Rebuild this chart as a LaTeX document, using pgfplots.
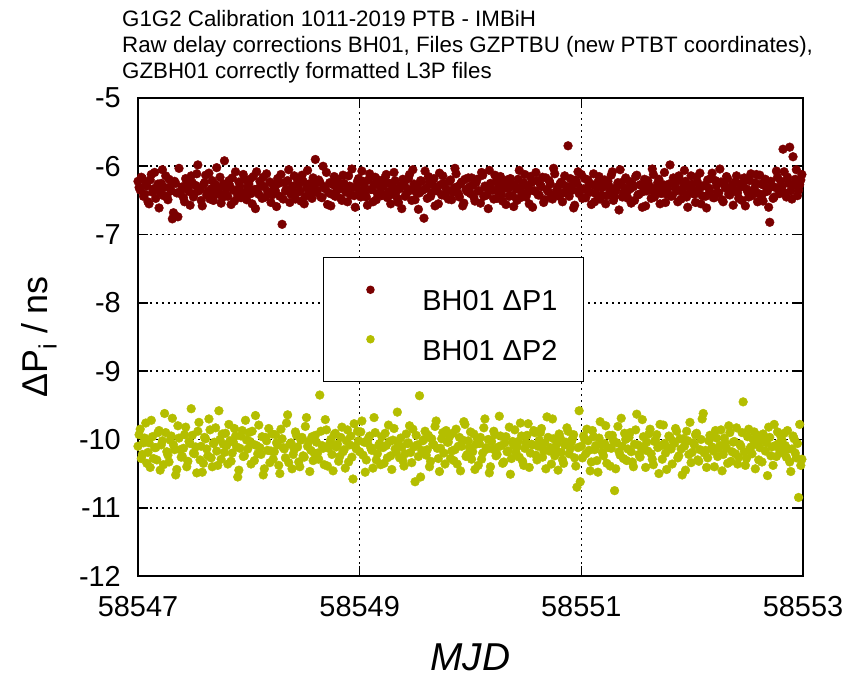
\documentclass[border=0pt]{standalone}
\usepackage{pgfplots}
\pgfplotsset{compat=1.18}
\usepackage{pgfplotstable}
\usepackage{fontspec}
\setmainfont{Liberation Sans}
\definecolor{pone}{RGB}{122,0,0}
\definecolor{ptwo}{RGB}{180,190,0}
% t = MJD - 58547 (even hundredths)
\pgfplotstableread{
t p1 p2
0.00 -6.22 -10.10
0.02 -6.35 -9.85
0.04 -6.18 -10.22
0.06 -6.41 -9.98
0.08 -6.29 -10.35
0.10 -6.55 -10.05
0.12 -6.12 -9.72
0.14 -6.33 -10.28
0.16 -6.47 -10.12
0.18 -6.26 -9.90
0.20 -6.38 -10.45
0.22 -6.05 -10.02
0.24 -6.31 -9.62
0.26 -6.44 -10.18
0.28 -6.19 -10.33
0.30 -6.36 -9.95
0.32 -6.68 -10.08
0.34 -6.25 -10.52
0.36 -6.74 -9.80
0.38 -6.40 -10.15
0.40 -6.30 -10.25
0.42 -6.52 -9.93
0.44 -6.21 -10.40
0.46 -6.37 -10.03
0.48 -6.14 -9.55
0.50 -6.45 -10.20
0.52 -6.28 -10.11
0.54 -5.98 -9.88
0.56 -6.34 -10.30
0.58 -6.58 -10.48
0.60 -6.24 -9.97
0.62 -6.42 -10.14
0.64 -6.10 -9.70
0.66 -6.33 -10.27
0.68 -6.50 -10.06
0.70 -6.27 -9.83
0.72 -6.39 -10.38
0.74 -6.16 -10.00
0.76 -6.46 -9.92
0.78 -5.92 -10.19
0.80 -6.31 -10.09
0.82 -6.21 -9.78
0.84 -6.56 -10.32
0.86 -6.35 -10.04
0.88 -6.08 -9.95
0.90 -6.43 -10.55
0.92 -6.29 -10.13
0.94 -6.38 -9.87
0.96 -6.19 -10.24
0.98 -6.49 -10.01
1.00 -6.26 -9.90
1.02 -6.40 -10.36
1.04 -6.15 -10.07
1.06 -6.62 -9.65
1.08 -6.33 -10.21
1.10 -6.22 -10.12
1.12 -6.47 -9.96
1.14 -6.30 -10.43
1.16 -6.11 -10.02
1.18 -6.39 -9.84
1.20 -6.53 -10.17
1.22 -6.27 -10.29
1.24 -6.36 -9.93
1.26 -6.18 -10.08
1.28 -6.44 -10.50
1.30 -6.85 -9.99
1.32 -6.24 -10.14
1.34 -6.34 -9.76
1.36 -6.05 -10.34
1.38 -6.41 -10.05
1.40 -6.29 -10.22
1.42 -6.48 -9.89
1.44 -6.20 -10.11
1.46 -6.37 -10.40
1.48 -6.13 -9.97
1.50 -6.55 -10.26
1.52 -6.32 -9.68
1.54 -6.26 -10.03
1.56 -6.42 -10.16
1.58 -6.17 -10.31
1.60 -5.90 -9.94
1.62 -6.35 -10.20
1.64 -6.23 -9.35
1.66 -6.46 -10.09
1.68 -6.30 -10.37
1.70 -6.09 -9.86
1.72 -6.39 -10.13
1.74 -6.58 -10.00
1.76 -6.27 -10.46
1.78 -6.44 -9.91
1.80 -6.19 -10.07
1.82 -6.33 -10.25
1.84 -6.50 -9.82
1.86 -6.25 -10.15
1.88 -6.38 -10.02
1.90 -6.14 -10.33
1.92 -6.42 -9.95
1.94 -6.31 -10.58
1.96 -6.60 -10.10
1.98 -6.22 -9.88
2.00 -6.36 -10.18
2.02 -6.07 -9.73
2.04 -6.28 -10.04
2.06 -6.45 -10.30
2.08 -6.20 -9.98
2.10 -6.34 -10.12
2.12 -6.52 -10.42
2.14 -6.16 -9.90
2.16 -6.40 -10.21
2.18 -6.29 -10.06
2.20 -6.43 -9.96
2.22 -6.24 -10.35
2.24 -6.12 -10.09
2.26 -6.37 -9.79
2.28 -6.55 -10.24
2.30 -6.30 -10.01
2.32 -6.21 -10.14
2.34 -6.47 -9.60
2.36 -6.33 -10.27
2.38 -6.62 -10.11
2.40 -6.26 -10.39
2.42 -6.41 -9.92
2.44 -6.18 -10.05
2.46 -6.35 -10.19
2.48 -6.05 -9.85
2.50 -6.49 -10.62
2.52 -6.28 -10.08
2.54 -6.39 -9.36
2.56 -6.22 -10.16
2.58 -6.76 -10.00
2.60 -6.32 -10.23
2.62 -6.15 -9.94
2.64 -6.44 -10.32
2.66 -6.27 -10.07
2.68 -6.58 -9.81
2.70 -6.36 -10.13
2.72 -6.10 -10.47
2.74 -6.42 -9.99
2.76 -6.25 -10.20
2.78 -6.33 -9.87
2.80 -6.48 -10.04
2.82 -6.20 -10.28
2.84 -6.38 -9.91
2.86 -6.03 -10.15
2.88 -6.30 -10.36
2.90 -6.45 -9.97
2.92 -6.23 -10.10
2.94 -6.54 -9.74
2.96 -6.34 -10.25
2.98 -6.17 -10.02
3.00 -6.40 -9.89
3.02 -6.28 -10.18
3.04 -6.51 -10.44
3.06 -6.19 -9.98
3.08 -6.36 -10.06
3.10 -6.09 -10.29
3.12 -6.44 -9.83
3.14 -6.31 -10.12
3.16 -6.62 -10.00
3.18 -6.25 -10.40
3.20 -6.35 -10.14
3.22 -6.13 -9.93
3.24 -6.47 -10.22
3.26 -6.29 -9.66
3.28 -6.41 -10.09
3.30 -6.22 -10.33
3.32 -6.56 -9.96
3.34 -6.33 -10.17
3.36 -6.18 -10.51
3.38 -6.43 -10.03
3.40 -6.27 -9.86
3.42 -6.50 -10.11
3.44 -6.06 -10.26
3.46 -6.38 -9.95
3.48 -6.24 -10.38
3.50 -6.45 -10.05
3.52 -6.31 -9.77
3.54 -6.15 -10.20
3.56 -6.60 -10.08
3.58 -6.36 -9.90
3.60 -6.21 -10.30
3.62 -6.42 -10.01
3.64 -6.30 -9.84
3.66 -6.53 -10.16
3.68 -6.17 -10.43
3.70 -6.37 -9.97
3.72 -6.26 -10.12
3.74 -6.48 -9.70
3.76 -6.11 -10.24
3.78 -6.34 -10.06
3.80 -6.44 -9.92
3.82 -6.23 -10.19
3.84 -6.39 -10.35
3.86 -6.29 -10.04
3.88 -5.70 -9.88
3.90 -6.18 -10.13
3.92 -6.35 -9.99
3.94 -6.57 -10.27
3.96 -6.25 -10.70
3.98 -6.40 -9.58
4.00 -6.12 -10.10
4.02 -6.33 -9.95
4.04 -6.46 -10.21
4.06 -6.20 -10.02
4.08 -6.38 -10.46
4.10 -6.27 -9.87
4.12 -6.52 -10.15
4.14 -6.31 -10.31
4.16 -6.15 -9.98
4.18 -6.42 -10.08
4.20 -6.29 -10.24
4.22 -6.55 -9.80
4.24 -6.22 -10.12
4.26 -6.36 -10.39
4.28 -6.08 -9.94
4.30 -6.44 -10.75
4.32 -6.30 -10.05
4.34 -6.64 -10.18
4.36 -6.24 -9.69
4.38 -6.39 -10.28
4.40 -6.17 -10.00
4.42 -6.47 -10.14
4.44 -6.33 -9.90
4.46 -6.26 -10.33
4.48 -6.50 -10.07
4.50 -6.13 -9.63
4.52 -6.41 -10.22
4.54 -6.28 -10.11
4.56 -6.37 -9.96
4.58 -6.58 -10.41
4.60 -6.21 -10.17
4.62 -6.35 -9.85
4.64 -6.04 -10.29
4.66 -6.45 -10.03
4.68 -6.30 -9.93
4.70 -6.19 -10.50
4.72 -6.40 -10.09
4.74 -6.27 -9.79
4.76 -6.53 -10.20
4.78 -6.33 -10.12
4.80 -5.98 -9.97
4.82 -6.43 -10.36
4.84 -6.25 -10.06
4.86 -6.36 -9.88
4.88 -6.14 -10.24
4.90 -6.48 -10.14
4.92 -6.31 -9.99
4.94 -6.22 -10.45
4.96 -6.60 -10.02
4.98 -6.38 -9.75
5.00 -6.26 -10.19
5.02 -6.41 -10.08
5.04 -6.16 -9.91
5.06 -6.34 -10.32
5.08 -6.55 -10.00
5.10 -6.29 -9.62
5.12 -6.44 -10.16
5.14 -6.20 -10.27
5.16 -6.37 -9.94
5.18 -6.10 -10.11
5.20 -6.46 -10.40
5.22 -6.28 -9.98
5.24 -6.39 -10.13
5.26 -6.23 -9.86
5.28 -6.52 -10.22
5.30 -6.32 -10.05
5.32 -6.18 -10.35
5.34 -6.42 -9.90
5.36 -6.27 -10.18
5.38 -6.35 -10.03
5.40 -6.14 -9.83
5.42 -6.47 -10.26
5.44 -6.30 -10.10
5.46 -6.24 -9.45
5.48 -6.58 -10.38
5.50 -6.37 -9.96
5.52 -6.21 -10.14
5.54 -6.43 -10.21
5.56 -6.33 -9.89
5.58 -6.12 -10.07
5.60 -6.40 -10.30
5.62 -6.26 -10.01
5.64 -6.51 -9.92
5.66 -6.19 -10.17
5.68 -6.36 -10.53
5.70 -6.82 -9.97
5.72 -6.29 -10.11
5.74 -6.45 -9.78
5.76 -6.07 -10.25
5.78 -6.34 -10.06
5.80 -6.22 -9.95
5.82 -5.75 -10.20
5.84 -6.39 -10.09
5.86 -6.16 -9.87
5.88 -5.72 -10.33
5.90 -6.48 -10.14
5.92 -6.27 -9.99
5.94 -6.05 -10.27
5.96 -6.35 -10.85
5.98 -6.20 -10.38
}\datatablea
% t = MJD - 58547 (odd hundredths)
\pgfplotstableread{
t p1 p2
0.01 -6.31 -9.93
0.03 -6.16 -10.28
0.05 -6.44 -10.05
0.07 -6.27 -9.76
0.09 -6.52 -10.19
0.11 -6.20 -10.41
0.13 -6.38 -9.96
0.15 -6.09 -10.12
0.17 -6.34 -10.30
0.19 -6.61 -9.87
0.21 -6.25 -10.08
0.23 -6.43 -10.37
0.25 -6.14 -9.90
0.27 -6.49 -10.23
0.29 -6.30 -10.01
0.31 -6.77 -9.69
0.33 -6.22 -10.15
0.35 -6.39 -10.44
0.37 -6.03 -9.98
0.39 -6.35 -10.26
0.41 -6.46 -10.13
0.43 -6.18 -9.82
0.45 -6.32 -10.32
0.47 -6.57 -10.06
0.49 -6.24 -9.94
0.51 -6.40 -10.21
0.53 -6.11 -10.49
0.55 -6.36 -9.75
0.57 -6.50 -10.10
0.59 -6.27 -10.35
0.61 -6.13 -9.99
0.63 -6.37 -10.24
0.65 -6.48 -9.86
0.67 -6.21 -10.40
0.69 -6.42 -10.04
0.71 -6.02 -10.17
0.73 -6.33 -9.58
0.75 -6.54 -10.29
0.77 -6.26 -10.07
0.79 -6.39 -9.91
0.81 -6.44 -10.36
0.83 -6.29 -10.02
0.85 -6.17 -10.20
0.87 -6.51 -9.84
0.89 -6.35 -10.11
0.91 -6.23 -10.45
0.93 -6.46 -9.95
0.95 -6.12 -10.25
0.97 -6.40 -9.72
0.99 -6.30 -10.14
1.01 -6.19 -10.03
1.03 -6.55 -9.88
1.05 -6.34 -10.31
1.07 -6.08 -10.09
1.09 -6.41 -9.79
1.11 -6.28 -10.22
1.13 -6.16 -10.52
1.15 -6.45 -9.97
1.17 -6.37 -10.16
1.19 -6.23 -10.34
1.21 -6.42 -9.92
1.23 -6.31 -10.18
1.25 -6.59 -10.05
1.27 -6.25 -10.38
1.29 -6.12 -9.85
1.31 -6.48 -10.12
1.33 -6.36 -10.27
1.35 -6.21 -9.64
1.37 -6.53 -10.07
1.39 -6.30 -10.43
1.41 -6.14 -10.15
1.43 -6.39 -9.94
1.45 -6.27 -10.33
1.47 -6.51 -10.01
1.49 -6.22 -10.24
1.51 -6.44 -9.81
1.53 -6.06 -10.10
1.55 -6.35 -10.47
1.57 -6.47 -9.96
1.59 -6.28 -10.20
1.61 -6.38 -10.04
1.63 -6.20 -10.29
1.65 -6.45 -9.88
1.67 -6.00 -10.13
1.69 -6.33 -9.71
1.71 -6.56 -10.39
1.73 -6.24 -10.06
1.75 -6.41 -10.22
1.77 -6.15 -9.93
1.79 -6.37 -10.11
1.81 -6.26 -10.32
1.83 -6.47 -9.97
1.85 -6.13 -10.18
1.87 -6.36 -10.42
1.89 -6.52 -9.86
1.91 -6.29 -10.08
1.93 -6.04 -10.26
1.95 -6.43 -9.77
1.97 -6.31 -10.14
1.99 -6.18 -10.02
2.01 -6.45 -9.89
2.03 -6.22 -10.23
2.05 -6.38 -10.48
2.07 -6.57 -10.05
2.09 -6.11 -9.95
2.11 -6.34 -10.16
2.13 -6.27 -9.68
2.15 -6.49 -10.30
2.17 -6.20 -10.09
2.19 -6.40 -10.37
2.21 -6.30 -10.12
2.23 -6.16 -9.91
2.25 -6.46 -10.27
2.27 -6.25 -10.03
2.29 -6.41 -10.44
2.31 -6.09 -9.84
2.33 -6.37 -10.19
2.35 -6.53 -10.07
2.37 -6.28 -9.98
2.39 -6.19 -10.31
2.41 -6.44 -10.21
2.43 -6.33 -10.06
2.45 -6.12 -9.80
2.47 -6.50 -10.34
2.49 -6.26 -10.11
2.51 -6.38 -9.94
2.53 -6.63 -10.25
2.55 -6.21 -10.55
2.57 -6.35 -10.02
2.59 -6.07 -9.88
2.61 -6.47 -10.15
2.63 -6.24 -10.40
2.65 -6.39 -9.99
2.67 -6.18 -10.08
2.69 -6.31 -9.73
2.71 -6.55 -10.28
2.73 -6.27 -10.13
2.75 -6.14 -9.90
2.77 -6.43 -10.36
2.79 -6.36 -10.04
2.81 -6.22 -9.96
2.83 -6.49 -10.17
2.85 -6.32 -10.31
2.87 -6.11 -9.85
2.89 -6.40 -10.10
2.91 -6.26 -10.46
2.93 -6.58 -10.01
2.95 -6.19 -9.78
2.97 -6.37 -10.22
2.99 -6.30 -10.12
3.01 -6.17 -10.29
3.03 -6.45 -9.92
3.05 -6.24 -10.07
3.07 -6.36 -10.38
3.09 -6.54 -9.97
3.11 -6.13 -10.20
3.13 -6.29 -9.70
3.15 -6.42 -10.14
3.17 -6.06 -10.49
3.19 -6.34 -10.03
3.21 -6.48 -9.88
3.23 -6.23 -10.24
3.25 -6.38 -10.11
3.27 -6.15 -9.95
3.29 -6.51 -10.35
3.31 -6.31 -10.05
3.33 -6.20 -10.18
3.35 -6.44 -9.82
3.37 -6.27 -10.28
3.39 -6.59 -10.09
3.41 -6.33 -10.19
3.43 -6.19 -10.03
3.45 -6.46 -9.76
3.47 -6.28 -10.32
3.49 -6.12 -10.13
3.51 -6.40 -9.94
3.53 -6.55 -10.41
3.55 -6.24 -10.07
3.57 -6.36 -9.87
3.59 -6.09 -10.23
3.61 -6.42 -10.10
3.63 -6.27 -9.90
3.65 -6.16 -10.26
3.67 -6.49 -10.05
3.69 -6.34 -9.67
3.71 -6.21 -10.17
3.73 -6.45 -10.36
3.75 -6.03 -9.99
3.77 -6.38 -10.14
3.79 -6.30 -10.45
3.81 -6.25 -9.98
3.83 -6.52 -10.30
3.85 -6.14 -10.08
3.87 -6.37 -9.83
3.89 -6.44 -10.21
3.91 -6.29 -10.04
3.93 -6.61 -9.93
3.95 -6.20 -10.39
3.97 -6.08 -10.12
3.99 -6.33 -10.62
4.01 -6.47 -10.27
4.03 -6.18 -10.00
4.05 -6.35 -9.85
4.07 -6.26 -10.16
4.09 -6.56 -10.33
4.11 -6.11 -9.96
4.13 -6.40 -10.09
4.15 -6.23 -10.48
4.17 -6.48 -9.74
4.19 -6.31 -10.19
4.21 -6.20 -10.06
4.23 -6.43 -10.35
4.25 -6.29 -9.94
4.27 -6.13 -10.13
4.29 -6.50 -10.02
4.31 -6.36 -10.43
4.33 -6.24 -9.81
4.35 -6.05 -10.23
4.37 -6.45 -10.10
4.39 -6.32 -9.91
4.41 -6.39 -10.31
4.43 -6.22 -9.97
4.45 -6.54 -10.18
4.47 -6.30 -10.40
4.49 -6.15 -9.86
4.51 -6.42 -10.08
4.53 -6.27 -10.26
4.55 -6.60 -9.71
4.57 -6.19 -10.15
4.59 -6.36 -10.04
4.61 -6.28 -9.92
4.63 -6.47 -10.21
4.65 -6.12 -10.37
4.67 -6.38 -10.01
4.69 -6.24 -10.12
4.71 -6.55 -9.78
4.73 -6.33 -10.29
4.75 -6.09 -10.06
4.77 -6.41 -10.44
4.79 -6.26 -9.95
4.81 -6.44 -10.14
4.83 -6.17 -10.03
4.85 -6.31 -9.84
4.87 -6.52 -10.27
4.89 -6.21 -9.99
4.91 -6.37 -10.52
4.93 -6.06 -10.10
4.95 -6.45 -9.88
4.97 -6.29 -10.22
4.99 -6.14 -10.34
5.01 -6.35 -10.05
5.03 -6.53 -9.93
5.05 -6.24 -10.30
5.07 -6.10 -10.15
5.09 -6.43 -9.70
5.11 -6.28 -10.20
5.13 -6.61 -10.41
5.15 -6.32 -10.02
5.17 -6.18 -9.96
5.19 -6.46 -10.17
5.21 -6.21 -9.87
5.23 -6.38 -10.25
5.25 -6.04 -10.09
5.27 -6.49 -10.46
5.29 -6.27 -9.98
5.31 -6.15 -10.13
5.33 -6.41 -9.80
5.35 -6.34 -10.32
5.37 -6.57 -10.04
5.39 -6.23 -10.21
5.41 -6.39 -10.36
5.43 -6.26 -10.07
5.45 -6.50 -9.90
5.47 -6.17 -10.18
5.49 -6.33 -10.28
5.51 -6.45 -9.85
5.53 -6.11 -10.11
5.55 -6.36 -10.00
5.57 -6.24 -10.43
5.59 -6.52 -9.94
5.61 -6.13 -10.12
5.63 -6.42 -10.33
5.65 -6.28 -9.97
5.67 -6.37 -10.05
5.69 -6.60 -9.82
5.71 -6.22 -10.24
5.73 -6.47 -10.38
5.75 -6.31 -10.09
5.77 -6.16 -9.89
5.79 -6.40 -10.16
5.81 -6.30 -10.01
5.83 -6.08 -9.91
5.85 -6.45 -10.26
5.87 -6.25 -10.14
5.89 -6.36 -10.47
5.91 -5.86 -9.95
5.93 -6.19 -10.20
5.95 -6.43 -10.06
5.97 -6.27 -9.78
5.99 -6.12 -10.29
}\datatableb
\begin{document}
\begin{tikzpicture}
\path[use as bounding box] (-138bp,-103bp) rectangle (707bp,576bp);
\node[anchor=base west, inner sep=0pt, font=\fontsize{22.4}{26}\selectfont] at (-16bp,549bp) {G1G2 Calibration 1011-2019 PTB - IMBiH};
\node[anchor=base west, inner sep=0pt, font=\fontsize{22.4}{26}\selectfont] at (-16bp,523bp) {Raw delay corrections BH01, Files GZPTBU (new PTBT coordinates),};
\node[anchor=base west, inner sep=0pt, font=\fontsize{22.4}{26}\selectfont] at (-16bp,497bp) {GZBH01 correctly formatted L3P files};
\begin{axis}[
  at={(0,0)}, anchor=south west,
  scale only axis, width=665bp, height=478bp,
  xmin=0, xmax=6, ymin=-12, ymax=-5,
  xtick={0,2,4,6}, xticklabels={58547,58549,58551,58553},
  ytick={-12,-11,-10,-9,-8,-7,-6,-5},
  /pgf/number format/assume math mode=true,
  tick align=inside, major tick length=10bp,
  axis line style={line width=1.6bp, black},
  tick style={line width=1.6bp, black},
  grid=major,
  major grid style={line width=1.6bp, black, dash pattern=on 1.6bp off 4.4bp},
  ticklabel style={font=\fontsize{29}{33}\selectfont, inner sep=0pt},
  yticklabel style={anchor=east, xshift=-17bp},
  xticklabel style={anchor=north, yshift=-20bp},
  xlabel={MJD},
  xlabel style={font=\itshape\fontsize{39}{44}\selectfont, at={(axis description cs:0.5,0)}, anchor=base, yshift=-94bp, inner sep=0pt},
  ylabel={ΔP\textsubscript{i} / ns},
  ylabel style={font=\fontsize{36}{42}\selectfont, at={(axis description cs:-0.1368,0.5)}, anchor=base, inner sep=0pt},
  legend style={at={(rel axis cs:0.278,0.667)}, anchor=north west, draw=black, line width=1.2bp,
    inner xsep=13bp, inner ysep=21.5bp, row sep=18bp,
    font=\fontsize{29}{33}\selectfont,
    nodes={inner sep=0pt, text height=21bp, text depth=0pt}},
  legend cell align=left,
  legend image code/.code={\path[draw=none, fill=none] (-34bp,0bp) rectangle (52bp,21bp); \draw[#1, mark size=3.6bp] plot coordinates {(0bp,10.5bp)};},
]
\addplot[only marks, mark=*, mark size=4.4bp, color=pone, fill=pone, draw=pone] table[x=t, y=p1] {\datatablea};
\addlegendentry{BH01 ΔP1\hspace*{13bp}}
\addplot[only marks, mark=*, mark size=4.4bp, color=pone, fill=pone, draw=pone, forget plot] table[x=t, y=p1] {\datatableb};
\addplot[only marks, mark=*, mark size=4.4bp, color=ptwo, fill=ptwo, draw=ptwo] table[x=t, y=p2] {\datatablea};
\addlegendentry{BH01 ΔP2\hspace*{13bp}}
\addplot[only marks, mark=*, mark size=4.4bp, color=ptwo, fill=ptwo, draw=ptwo, forget plot] table[x=t, y=p2] {\datatableb};
\end{axis}
\end{tikzpicture}
\end{document}
